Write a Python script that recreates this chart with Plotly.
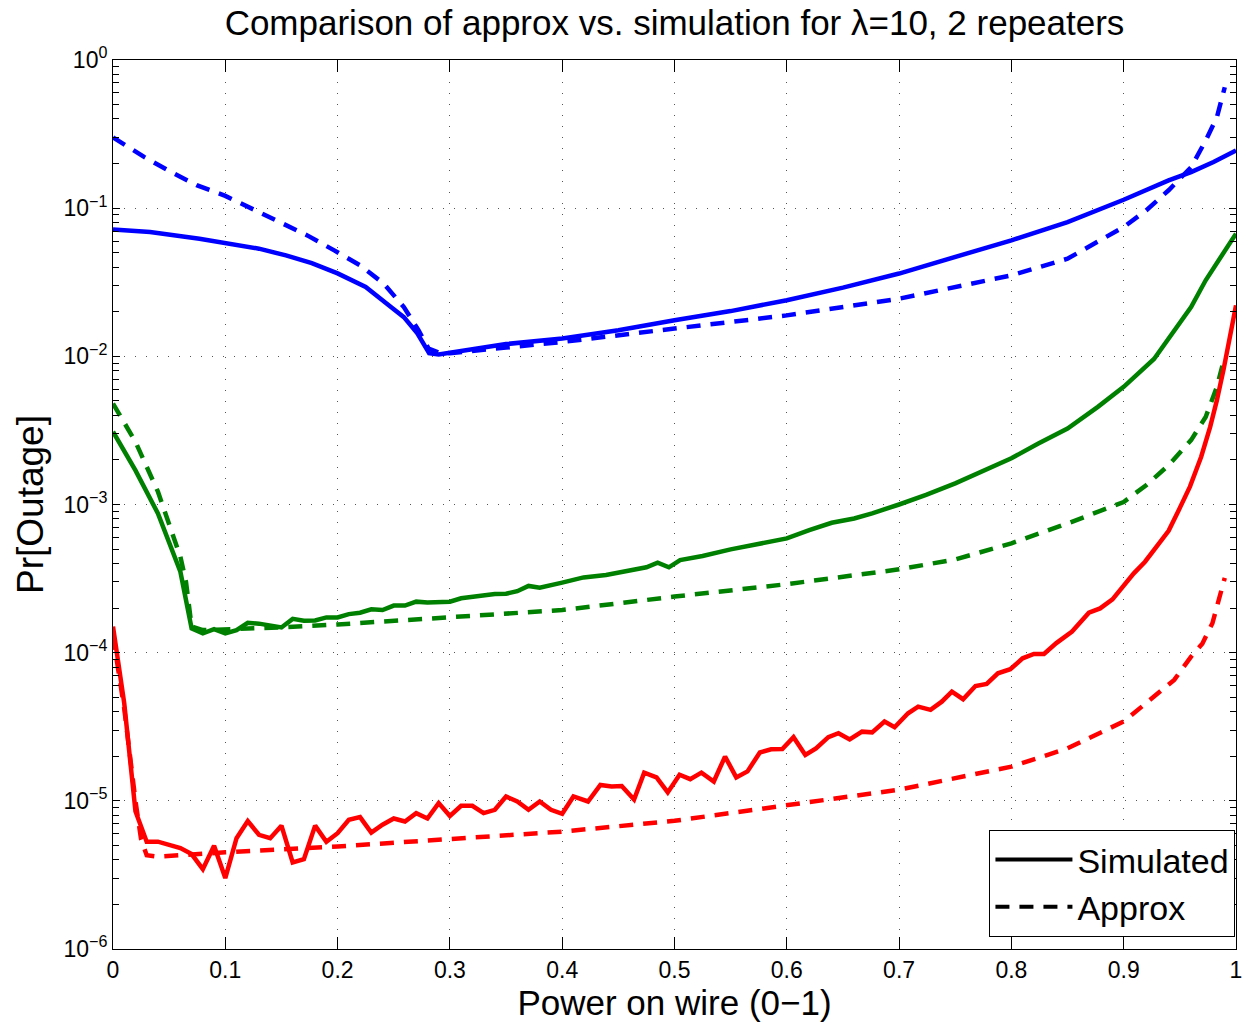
import plotly.graph_objects as go

# ---------------- data ----------------
blue_sim_x = [0, 0.033, 0.077, 0.1, 0.13, 0.154, 0.177, 0.2, 0.225, 0.2475, 0.259, 0.271,
              0.2815, 0.29, 0.3, 0.35, 0.4, 0.45, 0.5, 0.55, 0.6, 0.65, 0.7, 0.75, 0.8,
              0.85, 0.9, 0.94, 0.96, 0.98, 1.0]
blue_sim_y = [0.0717, 0.069, 0.0622, 0.0582, 0.0533, 0.048, 0.0426, 0.0363, 0.0294, 0.0215,
              0.0184, 0.0143, 0.0105, 0.0103, 0.0106, 0.0121, 0.0132, 0.015, 0.0175, 0.0202,
              0.0239, 0.0291, 0.0362, 0.0468, 0.0607, 0.0806, 0.114, 0.154, 0.175, 0.205,
              0.245]

blue_apx_x = [0, 0.028, 0.052, 0.075, 0.1, 0.124, 0.148, 0.173, 0.197, 0.22, 0.241, 0.259,
              0.272, 0.281, 0.29, 0.3, 0.35, 0.4, 0.5, 0.6, 0.7, 0.8, 0.85, 0.9, 0.92,
              0.94, 0.96, 0.973, 0.983, 0.99]
blue_apx_y = [0.30, 0.221, 0.175, 0.1425, 0.121, 0.0993, 0.0806, 0.0655, 0.0519, 0.0411,
              0.031, 0.0215, 0.015, 0.0113, 0.0106, 0.0105, 0.01146, 0.0125, 0.0154, 0.0189,
              0.0245, 0.0352, 0.0456, 0.0746, 0.0966, 0.132, 0.189, 0.286, 0.411, 0.655]

green_sim_x = [0, 0.02, 0.04, 0.06, 0.07, 0.08, 0.09, 0.1, 0.11, 0.12, 0.13, 0.14, 0.15,
               0.16, 0.17, 0.18, 0.19, 0.2, 0.21, 0.22, 0.23, 0.24, 0.25, 0.26, 0.27, 0.28,
               0.29, 0.3, 0.31, 0.32, 0.33, 0.34, 0.35, 0.36, 0.37, 0.38, 0.4, 0.419, 0.439,
               0.459, 0.475, 0.485, 0.495, 0.505, 0.525, 0.55, 0.575, 0.6, 0.62, 0.64, 0.66,
               0.676, 0.7, 0.724, 0.75, 0.776, 0.8, 0.824, 0.85, 0.877, 0.9, 0.927, 0.941,
               0.96, 0.973, 1.0]
green_sim_y = [3.1e-3, 1.7e-3, 8.7e-4, 3.52e-4, 1.46e-4, 1.35e-4, 1.44e-4, 1.35e-4, 1.42e-4,
               1.59e-4, 1.57e-4, 1.53e-4, 1.48e-4, 1.69e-4, 1.64e-4, 1.65e-4, 1.73e-4,
               1.73e-4, 1.82e-4, 1.86e-4, 1.96e-4, 1.94e-4, 2.08e-4, 2.08e-4, 2.21e-4,
               2.18e-4, 2.18e-4, 2.21e-4, 2.33e-4, 2.39e-4, 2.41e-4, 2.49e-4, 2.5e-4, 2.6e-4,
               2.82e-4, 2.74e-4, 2.97e-4, 3.22e-4, 3.34e-4, 3.56e-4, 3.77e-4, 4.05e-4,
               3.77e-4, 4.22e-4, 4.49e-4, 4.98e-4, 5.4e-4, 5.9e-4, 6.71e-4, 7.53e-4, 8.05e-4,
               8.71e-4, 1.0e-3, 1.16e-3, 1.39e-3, 1.71e-3, 2.05e-3, 2.58e-3, 3.26e-3,
               4.56e-3, 6.22e-3, 9.6e-3, 1.35e-2, 2.15e-2, 3.26e-2, 6.73e-2]

green_apx_x = [0, 0.02, 0.04, 0.06, 0.065, 0.07, 0.08, 0.1, 0.12, 0.15, 0.2, 0.25, 0.3,
               0.35, 0.4, 0.5, 0.6, 0.7, 0.75, 0.8, 0.85, 0.9, 0.92, 0.94, 0.96, 0.973,
               0.983, 0.99]
green_apx_y = [4.8e-3, 2.65e-3, 1.22e-3, 4.44e-4, 3.0e-4, 1.5e-4, 1.42e-4, 1.43e-4, 1.45e-4,
               1.48e-4, 1.55e-4, 1.64e-4, 1.73e-4, 1.84e-4, 1.94e-4, 2.39e-4, 2.9e-4,
               3.65e-4, 4.26e-4, 5.47e-4, 7.45e-4, 1.04e-3, 1.35e-3, 1.84e-3, 2.72e-3,
               3.9e-3, 6.22e-3, 1.0e-2]

red_sim_x = [0, 0.01, 0.02, 0.03, 0.04, 0.05, 0.06, 0.07, 0.08, 0.09, 0.1, 0.11, 0.12, 0.13,
             0.14, 0.15, 0.16, 0.17, 0.18, 0.19, 0.2, 0.21, 0.22, 0.23, 0.24, 0.25, 0.26,
             0.27, 0.28, 0.29, 0.3, 0.31, 0.32, 0.33, 0.34, 0.35, 0.36, 0.37, 0.38, 0.39,
             0.4, 0.41, 0.423, 0.434, 0.444, 0.453, 0.464, 0.473, 0.484, 0.494, 0.5045,
             0.514, 0.524, 0.535, 0.545, 0.555, 0.565, 0.576, 0.586, 0.596, 0.606, 0.6165,
             0.626, 0.637, 0.646, 0.656, 0.667, 0.676, 0.687, 0.696, 0.708, 0.717, 0.728,
             0.738, 0.747, 0.757, 0.768, 0.778, 0.788, 0.799, 0.81, 0.82, 0.829, 0.84,
             0.854, 0.869, 0.879, 0.89, 0.9, 0.909, 0.919, 0.929, 0.94, 0.949, 0.959,
             0.969, 0.977, 0.983, 0.989, 1.0]
red_sim_y = [1.5e-4, 4.56e-5, 8.5e-6, 5.3e-6, 5.3e-6, 5.0e-6, 4.8e-6, 4.37e-6, 3.46e-6,
             4.97e-6, 3.01e-6, 5.6e-6, 7.3e-6, 5.9e-6, 5.6e-6, 6.8e-6, 3.84e-6, 4.04e-6,
             6.8e-6, 5.3e-6, 6.05e-6, 7.45e-6, 7.76e-6, 6.1e-6, 6.9e-6, 7.6e-6, 7.25e-6,
             8.26e-6, 7.6e-6, 9.65e-6, 7.9e-6, 9.25e-6, 9.25e-6, 8.26e-6, 8.7e-6, 1.07e-5,
             9.9e-6, 8.7e-6, 9.9e-6, 8.7e-6, 8.17e-6, 1.07e-5, 9.9e-6, 1.28e-5, 1.25e-5,
             1.26e-5, 1.02e-5, 1.55e-5, 1.44e-5, 1.14e-5, 1.50e-5, 1.40e-5, 1.55e-5,
             1.35e-5, 1.99e-5, 1.44e-5, 1.58e-5, 2.12e-5, 2.23e-5, 2.24e-5, 2.69e-5,
             2.04e-5, 2.26e-5, 2.69e-5, 2.86e-5, 2.6e-5, 2.93e-5, 2.9e-5, 3.43e-5, 3.14e-5,
             3.9e-5, 4.32e-5, 4.11e-5, 4.67e-5, 5.46e-5, 4.85e-5, 5.96e-5, 6.15e-5,
             7.26e-5, 7.73e-5, 9.16e-5, 9.8e-5, 9.8e-5, 1.16e-4, 1.39e-4, 1.86e-4, 1.99e-4,
             2.29e-4, 2.86e-4, 3.43e-4, 4.11e-4, 5.19e-4, 6.65e-4, 9.16e-4, 1.32e-3,
             2.1e-3, 3.34e-3, 5.06e-3, 8.2e-3, 2.21e-2]

red_apx_x = [0, 0.01, 0.02, 0.025, 0.03, 0.04, 0.1, 0.2, 0.3, 0.4, 0.5, 0.6, 0.7, 0.8,
             0.85, 0.9, 0.92, 0.945, 0.96, 0.97, 0.979, 0.985, 0.99]
red_apx_y = [1.3e-4, 4.2e-5, 1.0e-5, 5.5e-6, 4.3e-6, 4.2e-6, 4.49e-6, 4.92e-6, 5.52e-6,
             6.2e-6, 7.33e-6, 9.4e-6, 1.19e-5, 1.7e-5, 2.26e-5, 3.43e-5, 4.56e-5, 6.55e-5,
             9.4e-5, 1.15e-4, 1.58e-4, 2.27e-4, 3.2e-4]

x_ticks = [0, 0.1, 0.2, 0.3, 0.4, 0.5, 0.6, 0.7, 0.8, 0.9, 1]
x_tick_labels = ["0", "0.1", "0.2", "0.3", "0.4", "0.5", "0.6", "0.7", "0.8", "0.9", "1"]
y_exps = [-6, -5, -4, -3, -2, -1, 0]
y_ticks = [10.0 ** e for e in y_exps]
y_tick_labels = ["10<sup>%s</sup>" % (str(e).replace("-", "\u2212")) for e in y_exps]
y_minor = [m * 10.0 ** e for e in y_exps[:-1] for m in range(2, 10)]

series = [
    (blue_sim_x, blue_sim_y, "#0000FF", "solid"),
    (blue_apx_x, blue_apx_y, "#0000FF", "dash"),
    (green_sim_x, green_sim_y, "#008000", "solid"),
    (green_apx_x, green_apx_y, "#008000", "dash"),
    (red_sim_x, red_sim_y, "#FF0000", "solid"),
    (red_apx_x, red_apx_y, "#FF0000", "dash"),
]

FONT = "Liberation Sans, Arial, Helvetica, sans-serif"
DASH = "14px,10px"

fig = go.Figure()
for xs, ys, col, style in series:
    fig.add_trace(go.Scatter(
        x=xs, y=ys, mode="lines", showlegend=False, hoverinfo="skip",
        line=dict(color=col, width=4.5, dash=(DASH if style == "dash" else "solid"))))

# legend entries (black)
fig.add_trace(go.Scatter(x=[None], y=[None], mode="lines", name="Simulated",
                         line=dict(color="black", width=4)))
fig.add_trace(go.Scatter(x=[None], y=[None], mode="lines", name="Approx",
                         line=dict(color="black", width=4, dash=DASH)))

fig.update_layout(
    width=1254, height=1025,
    margin=dict(l=113, r=14, t=60, b=76),
    paper_bgcolor="white", plot_bgcolor="white",
    font=dict(family=FONT, color="black"),
    title=dict(text="Comparison of approx vs. simulation for \u03bb=10, 2 repeaters",
               font=dict(size=35, family=FONT, color="black"),
               x=0.5, xref="paper", xanchor="center",
               y=1 - 23 / 1025, yref="container", yanchor="middle"),
    legend=dict(x=0.9995, y=0.0135, xanchor="right", yanchor="bottom",
                bgcolor="white", bordercolor="black", borderwidth=1,
                font=dict(size=34, family=FONT, color="black"),
                itemwidth=77, tracegroupgap=0),
    showlegend=True,
)

fig.update_xaxes(
    range=[0, 1], tickmode="array", tickvals=x_ticks, ticktext=x_tick_labels,
    ticks="inside", ticklen=12, tickwidth=1, tickcolor="black",
    showline=True, linecolor="black", linewidth=1, mirror="allticks",
    showgrid=True, gridcolor="#555555", gridwidth=1, griddash="1px,10px",
    zeroline=False,
    tickfont=dict(size=23, family=FONT, color="black"),
    title=dict(text="Power on wire (0\u22121)", font=dict(size=35, family=FONT, color="black"),
               standoff=6),
)
fig.update_yaxes(
    type="log", range=[-6, 0], tickmode="array", tickvals=y_ticks, ticktext=y_tick_labels,
    ticks="inside", ticklen=7, tickwidth=1, tickcolor="black",
    showline=True, linecolor="black", linewidth=1, mirror="allticks",
    showgrid=True, gridcolor="#555555", gridwidth=1, griddash="1px,10px",
    zeroline=False,
    tickfont=dict(size=23, family=FONT, color="black"),
    minor=dict(tickmode="array", tickvals=y_minor, ticks="inside", ticklen=6,
               tickcolor="black", showgrid=False),
    title=dict(text="Pr[Outage]", font=dict(size=37, family=FONT, color="black"),
               standoff=8),
)

fig.write_html("out.html")
